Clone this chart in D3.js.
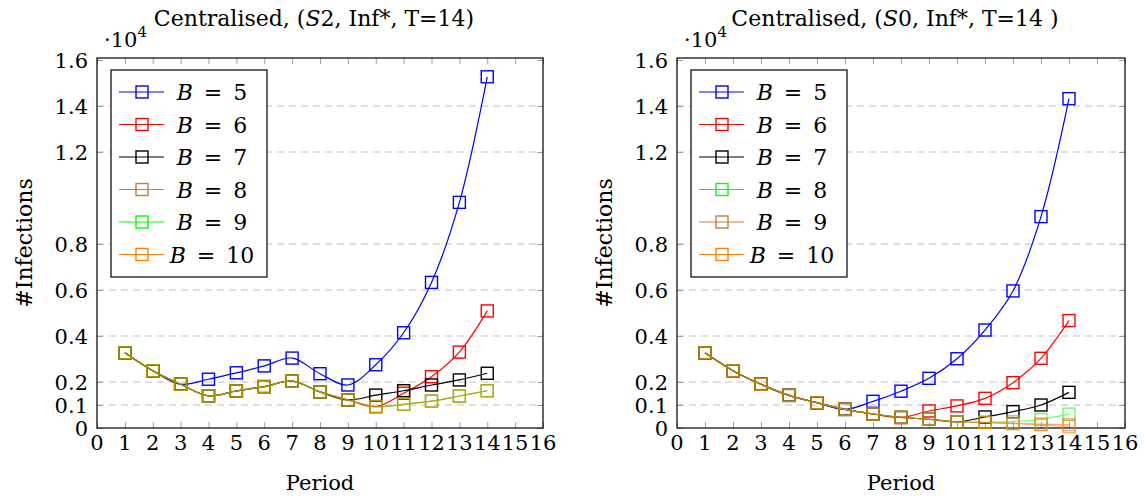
<!DOCTYPE html>
<html>
<head>
<meta charset="utf-8">
<script src="https://cdn.jsdelivr.net/npm/d3@7"></script>
<style>
  body { margin: 0; background: #fff; }
</style>
</head>
<body>
<div id="chart"></div>
<script>
// periods on the x axis
const periods = [1, 2, 3, 4, 5, 6, 7, 8, 9, 10, 11, 12, 13, 14]
const xTicks = [0, 1, 2, 3, 4, 5, 6, 7, 8, 9, 10, 11, 12, 13, 14, 15, 16]
const yTicks = [0, 1000, 2000, 4000, 6000, 8000, 12000, 14000, 16000]
const budgets = [5, 6, 7, 8, 9, 10]

// left panel: S2
const s2B5 = [3270, 2490, 1900, 2120, 2400, 2700, 3040, 2360, 1870, 2750, 4140, 6330, 9810, 15270]
const s2B6 = [3270, 2490, 1900, 1400, 1610, 1800, 2040, 1570, 1220, 930, 1510, 2230, 3300, 5090]
const s2B7 = [3270, 2490, 1900, 1400, 1610, 1800, 2040, 1570, 1220, 1430, 1620, 1870, 2090, 2380]
const s2B8 = [3270, 2490, 1900, 1400, 1610, 1800, 2040, 1570, 1220, 930, 1030, 1170, 1390, 1620]
const s2B9 = [3270, 2490, 1900, 1400, 1610, 1800, 2040, 1570, 1220, 930, 1030, 1170, 1390, 1620]
const s2B10 = [3270, 2490, 1900, 1400, 1610, 1800, 2040, 1570, 1220, 930, 1030, 1170, 1390, 1620]
const s2Colors = ["#0000ff", "#ff0000", "#000000", "#bf8040", "#00ff00", "#ff8000"]

// right panel: S0
const s0B5 = [3270, 2490, 1900, 1420, 1100, 810, 1160, 1600, 2160, 3010, 4260, 5960, 9190, 14320]
const s0B6 = [3270, 2490, 1900, 1420, 1100, 810, 610, 460, 740, 960, 1290, 1970, 3030, 4670]
const s0B7 = [3270, 2490, 1900, 1420, 1100, 810, 610, 460, 380, 270, 480, 710, 1000, 1550]
const s0B8 = [3270, 2490, 1900, 1420, 1100, 810, 610, 460, 380, 270, 250, 280, 370, 600]
const s0B9 = [3270, 2490, 1900, 1420, 1100, 810, 610, 460, 380, 270, 240, 200, 170, 150]
const s0B10 = [3270, 2490, 1900, 1420, 1100, 810, 610, 460, 380, 270, 240, 190, 140, 60]
const s0Colors = ["#0000ff", "#ff0000", "#000000", "#00ff00", "#bf8040", "#ff8000"]

const FONT = "DejaVu Serif"

const svg = d3.select("#chart").append("svg")
    .attr("width", 1144)
    .attr("height", 497)
    .attr("font-family", FONT)

function drawPanel(cfg) {
    var x = d3.scaleLinear().domain([0, 16]).range([cfg.left, cfg.right])
    var y = d3.scaleLinear().domain([0, 16000]).range([428, 60])
    var top = 58, bottom = 428

    var g = svg.append("g").attr("font-family", FONT)

    // grid lines
    g.selectAll(".grid")
        .data(yTicks.filter(d => d > 0 && d < 16000))
        .join("line")
            .attr("x1", cfg.left).attr("x2", cfg.right)
            .attr("y1", d => y(d)).attr("y2", d => y(d))
            .attr("stroke", "#c0c0c0")
            .attr("stroke-width", 1)
            .attr("stroke-dasharray", "7,5")

    // axes, ticks inward on all four sides
    var tickStyle = s => s.call(a => a.select(".domain").remove())
        .call(a => a.selectAll(".tick line").attr("stroke", "#a0a0a0"))
    g.append("g").attr("transform", `translate(0,${bottom})`)
        .call(d3.axisTop(x).tickValues(xTicks).tickSize(6).tickFormat(""))
        .call(tickStyle)
    g.append("g").attr("transform", `translate(0,${top})`)
        .call(d3.axisBottom(x).tickValues(xTicks).tickSize(6).tickFormat(""))
        .call(tickStyle)
    g.append("g").attr("transform", `translate(${cfg.left},0)`)
        .call(d3.axisRight(y).tickValues(yTicks).tickSize(6).tickFormat(""))
        .call(tickStyle)
    g.append("g").attr("transform", `translate(${cfg.right},0)`)
        .call(d3.axisLeft(y).tickValues(yTicks).tickSize(6).tickFormat(""))
        .call(tickStyle)

    // tick labels
    g.selectAll(".xl")
        .data(xTicks)
        .join("text")
            .attr("x", d => x(d))
            .attr("y", 450)
            .attr("text-anchor", "middle")
            .attr("font-family", FONT)
            .attr("font-size", 21)
            .text(d => d)
    g.selectAll(".yl")
        .data(yTicks)
        .join("text")
            .attr("x", cfg.left - 9)
            .attr("y", d => y(d) + 7.5)
            .attr("text-anchor", "end")
            .attr("font-family", FONT)
            .attr("font-size", 21)
            .text(d => d3.format(".1f")(d / 10000).replace(/^0\.0$/, "0"))

    // frame
    g.append("rect")
        .attr("x", cfg.left).attr("y", top)
        .attr("width", cfg.right - cfg.left).attr("height", bottom - top)
        .attr("fill", "none").attr("stroke", "#000").attr("stroke-width", 1.2)

    // series
    var line = d3.line()
        .x((d, i) => x(periods[i]))
        .y(d => y(d))
        .curve(d3.curveCatmullRom.alpha(0.5))
    cfg.series.forEach(function (vals, k) {
        var op = k >= 3 ? 0.6 : 1
        var sg = g.append("g").attr("opacity", op)
        sg.append("path")
            .attr("d", line(vals))
            .attr("fill", "none")
            .attr("stroke", cfg.colors[k])
            .attr("stroke-width", 1.2)
        sg.selectAll("rect")
            .data(vals)
            .join("rect")
                .attr("x", (d, i) => x(periods[i]) - 6)
                .attr("y", d => y(d) - 6)
                .attr("width", 12).attr("height", 12)
                .attr("fill", "none")
                .attr("stroke", cfg.colors[k])
                .attr("stroke-width", 1.4)
    })

    // legend
    var lx = cfg.left + 14, ly = 70
    var leg = g.append("g")
    leg.append("rect")
        .attr("x", lx).attr("y", ly)
        .attr("width", 156).attr("height", 207)
        .attr("fill", "#fff").attr("stroke", "#000").attr("stroke-width", 1.2)
    budgets.forEach(function (b, k) {
        var cy = ly + 22 + k * 32.5
        var c = cfg.colors[k]
        leg.append("line")
            .attr("x1", lx + 8).attr("x2", lx + 53)
            .attr("y1", cy).attr("y2", cy)
            .attr("stroke", c).attr("stroke-width", 1.2)
        leg.append("rect")
            .attr("x", lx + 25).attr("y", cy - 6)
            .attr("width", 12).attr("height", 12)
            .attr("fill", "none").attr("stroke", c).attr("stroke-width", 1.4)
        var t = leg.append("text")
            .attr("x", lx + 101).attr("y", cy + 8)
            .attr("text-anchor", "middle")
            .attr("font-family", FONT)
            .attr("font-size", 22)
        t.append("tspan").attr("font-style", "italic").text("B")
        t.append("tspan").text("\u2002=\u2002" + b)
    })

    // title
    var title = g.append("text")
        .attr("x", (cfg.left + cfg.right) / 2 - 6)
        .attr("y", 26)
        .attr("text-anchor", "middle")
        .attr("font-family", FONT)
        .attr("font-size", 22)
    title.append("tspan").text("Centralised, (")
    title.append("tspan").attr("font-style", "italic").text("S")
    title.append("tspan").text(cfg.scen + ", Inf*, T=14" + cfg.tail + ")")

    // scale factor
    var sf = g.append("text")
        .attr("x", cfg.left + 7)
        .attr("y", 47)
        .attr("font-family", FONT)
        .attr("font-size", 21)
    sf.append("tspan").text("\u00b710")
    sf.append("tspan").attr("dy", -10).attr("font-size", 15).text("4")

    // axis titles
    g.append("text")
        .attr("x", (cfg.left + cfg.right) / 2)
        .attr("y", 490)
        .attr("text-anchor", "middle")
        .attr("font-family", FONT)
        .attr("font-size", 21)
        .text("Period")
    g.append("text")
        .attr("transform", `translate(${cfg.left - 65},243) rotate(-90)`)
        .attr("text-anchor", "middle")
        .attr("font-family", FONT)
        .attr("font-size", 22)
        .text("#Infections")
}

drawPanel({ left: 97, right: 543, scen: "2", tail: "",
    series: [s2B5, s2B6, s2B7, s2B8, s2B9, s2B10], colors: s2Colors })
drawPanel({ left: 677, right: 1125, scen: "0", tail: " ",
    series: [s0B5, s0B6, s0B7, s0B8, s0B9, s0B10], colors: s0Colors })
</script>
</body>
</html>
